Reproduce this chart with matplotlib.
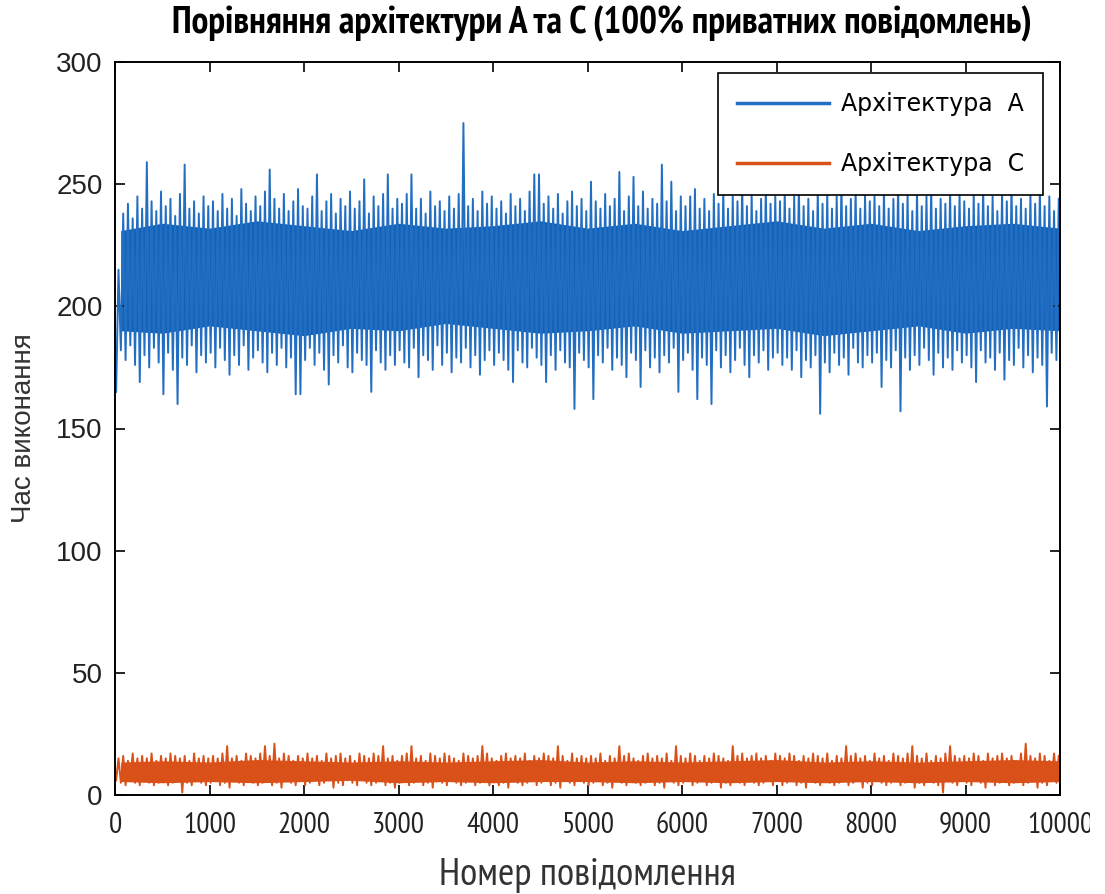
import numpy as np
import matplotlib.pyplot as plt
from matplotlib.transforms import Bbox, TransformedBbox

# zigzag lines must not be merged by the path simplifier
plt.rcParams['path.simplify'] = False

# bin width in messages: each bin holds the min and max seen in the plot
bin_size = 50

# architecture A: per-bin peaks (top) and dips (bottom)
a_hi = [
    215, 238, 242, 236, 245, 240, 259, 243, 239, 247, 241, 244, 237, 246, 258, 240, 243, 238, 245, 241,
    243, 239, 246, 240, 244, 237, 248, 242, 239, 245, 241, 247, 256, 244, 240, 246, 239, 243, 248, 241,
    240, 245, 254, 239, 243, 246, 238, 244, 241, 247, 240, 243, 252, 238, 245, 241, 246, 254, 240, 244,
    242, 246, 254, 240, 244, 238, 247, 241, 243, 239, 245, 240, 246, 275, 241, 244, 239, 247, 242, 245,
    240, 243, 238, 246, 241, 244, 239, 247, 254, 254, 242, 245, 240, 246, 238, 243, 247, 241, 244, 239,
    251, 243, 240, 246, 241, 244, 255, 239, 245, 253, 241, 247, 240, 244, 242, 258, 243, 251, 239, 245,
    241, 245, 248, 240, 244, 239, 246, 242, 248, 240, 245, 243, 250, 241, 246, 239, 244, 249, 242, 245,
    243, 247, 240, 245, 250, 241, 244, 239, 248, 242, 246, 240, 245, 251, 241, 244, 248, 240, 246, 243,
    245, 241, 248, 240, 244, 250, 242, 246, 239, 247, 241, 245, 249, 240, 244, 242, 248, 241, 246, 243,
    240, 246, 242, 249, 241, 245, 239, 247, 243, 250, 241, 244, 240, 246, 242, 248, 241, 245, 239, 244,
]
a_lo = [
    165, 182, 178, 184, 176, 169, 180, 175, 183, 177, 164, 181, 174, 160, 179, 176, 184, 173, 180, 177,
    181, 175, 183, 178, 172, 180, 176, 184, 174, 179, 182, 177, 173, 181, 176, 183, 175, 179, 164, 164,
    178, 183, 176, 181, 174, 168, 180, 177, 184, 175, 173, 181, 178, 176, 165, 182, 177, 174, 180, 176,
    182, 177, 175, 183, 171, 180, 178, 174, 184, 176, 181, 173, 179, 177, 183, 175, 180, 172, 178, 182,
    176, 181, 178, 174, 169, 182, 177, 175, 183, 179, 176, 169, 180, 174, 182, 177, 175, 158, 181, 178,
    175, 162, 180, 177, 183, 174, 179, 176, 171, 181, 178, 167, 182, 175, 179, 173, 180, 177, 183, 165,
    178, 181, 174, 162, 179, 176, 160, 182, 175, 180, 173, 178, 183, 176, 171, 180, 177, 182, 174, 179,
    181, 176, 179, 174, 182, 171, 178, 175, 180, 156, 177, 173, 181, 176, 179, 172, 183, 177, 175, 180,
    177, 181, 167, 178, 175, 182, 157, 179, 174, 180, 176, 183, 178, 172, 181, 175, 179, 174, 182, 177,
    180, 175, 169, 182, 177, 179, 174, 181, 170, 178, 176, 183, 175, 180, 173, 179, 176, 159, 181, 178,
]

# architecture C
c_hi = [
    15, 16, 14, 17, 15, 16, 15, 17, 14, 16, 15, 17, 16, 15, 16, 14, 17, 15, 16, 15,
    16, 15, 17, 20, 15, 16, 14, 17, 16, 15, 17, 20, 16, 21, 15, 17, 16, 14, 16, 15,
    17, 15, 16, 14, 17, 15, 16, 17, 15, 16, 14, 17, 16, 15, 17, 16, 20, 15, 16, 14,
    16, 17, 20, 15, 16, 14, 17, 16, 15, 17, 16, 15, 14, 17, 16, 15, 16, 20, 17, 15,
    14, 16, 17, 15, 16, 15, 17, 14, 16, 15, 17, 16, 15, 20, 16, 14, 17, 15, 16, 15,
    16, 15, 17, 14, 16, 15, 20, 16, 17, 15, 14, 16, 17, 15, 16, 15, 17, 14, 20, 16,
    15, 17, 16, 14, 16, 15, 17, 16, 15, 14, 20, 16, 17, 15, 16, 17, 15, 16, 14, 17,
    16, 15, 17, 16, 14, 16, 15, 17, 16, 15, 17, 14, 16, 15, 20, 16, 17, 15, 16, 14,
    17, 15, 16, 14, 17, 16, 15, 17, 20, 16, 15, 17, 14, 16, 15, 17, 20, 16, 15, 16,
    15, 17, 16, 14, 17, 15, 16, 17, 15, 16, 14, 17, 21, 16, 15, 17, 16, 14, 17, 16,
]
c_lo = [
    6, 5, 4, 6, 5, 4, 6, 5, 4, 5, 6, 4, 5, 6, 1, 5, 4, 6, 5, 4,
    5, 6, 4, 5, 3, 6, 5, 4, 6, 5, 4, 5, 6, 4, 5, 3, 6, 5, 4, 6,
    4, 5, 6, 4, 5, 6, 3, 5, 4, 6, 5, 4, 6, 5, 4, 5, 6, 4, 5, 3,
    5, 6, 4, 5, 6, 4, 5, 3, 6, 5, 4, 6, 5, 4, 5, 6, 4, 5, 6, 4,
    6, 4, 5, 3, 6, 5, 4, 5, 6, 4, 5, 6, 4, 5, 3, 6, 5, 4, 6, 5,
    4, 5, 6, 4, 5, 3, 6, 5, 4, 6, 5, 4, 5, 6, 4, 5, 3, 6, 5, 4,
    5, 6, 4, 5, 6, 4, 5, 6, 3, 5, 4, 6, 5, 4, 6, 5, 4, 5, 6, 4,
    6, 4, 5, 6, 4, 5, 3, 6, 5, 4, 6, 5, 4, 5, 6, 4, 5, 6, 3, 5,
    4, 6, 5, 4, 5, 6, 4, 5, 6, 3, 5, 4, 6, 5, 4, 1, 6, 5, 4, 6,
    5, 4, 6, 5, 3, 6, 4, 5, 6, 4, 5, 6, 4, 5, 6, 3, 5, 4, 6, 5,
]

# dense core of each band (where the line is solid), every 500 messages
core_x = [60, 500, 1000, 1500, 2000, 2500, 3000, 3500, 4000, 4500, 5000,
          5500, 6000, 6500, 7000, 7500, 8000, 8500, 9000, 9500, 10000]
a_core_top = [231, 234, 232, 235, 233, 231, 234, 232, 233, 235, 232,
              234, 231, 233, 235, 232, 234, 231, 233, 234, 232]
a_core_bot = [190, 189, 192, 190, 188, 191, 190, 193, 191, 189, 190,
              192, 189, 190, 191, 188, 190, 192, 189, 191, 190]
c_core_top = [13.5, 14, 13.5, 14.5, 14, 13.5, 14, 13.5, 14, 14.5, 13.5,
              14, 13.5, 14, 14.5, 13.5, 14, 13.5, 14, 14.5, 14]
c_core_bot = [5.5, 5, 5.5, 5, 5.5, 6, 5, 5.5, 5, 5.5, 5.5,
              5, 5.5, 5, 5.5, 5, 5.5, 5, 5.5, 5, 5.5]

xticks = [0, 1000, 2000, 3000, 4000, 5000, 6000, 7000, 8000, 9000, 10000]
yticks = [0, 50, 100, 150, 200, 250, 300]

blue = '#1262B8'
blue_line = '#226EC2'
orange = '#DA5019'


def zigzag(lo, hi):
    # each bin: dip first, then peak
    starts = np.arange(len(lo)) * bin_size
    x = np.column_stack([starts + 12, starts + 37]).ravel()
    y = np.column_stack([lo, hi]).ravel()
    return x, y


def fit_width(txt, target_px):
    # rescale a text so it is as wide as in the original picture
    w = txt.get_window_extent(renderer=fig.canvas.get_renderer()).width
    txt.set_fontsize(txt.get_fontsize() * target_px / w)


narrow = ['PT Sans Narrow', 'Roboto Condensed', 'Sofia Sans Condensed', 'DejaVu Sans']
plain = ['Liberation Sans', 'DejaVu Sans']

fig = plt.figure(figsize=(11.05, 8.94), dpi=100)
ax = fig.add_axes([115 / 1105, 1 - 795 / 894, 945 / 1105, 733 / 894])

xa, ya = zigzag(a_lo, a_hi)
xc, yc = zigzag(c_lo, c_hi)
ax.fill_between(core_x, a_core_bot, a_core_top, color=blue, lw=0)
ax.fill_between(core_x, c_core_bot, c_core_top, color=orange, lw=0)
ax.plot(xa, ya, color=blue_line, lw=1.4, label='Архітектура  A')
ax.plot(xc, yc, color=orange, lw=1.4, label='Архітектура  C')

ax.set_xlim(0, 10000)
ax.set_ylim(0, 300)
ax.set_xticks(xticks)
ax.set_yticks(yticks)

for s in ax.spines.values():
    s.set_linewidth(1.4)
ax.tick_params(direction='in', length=7, width=1.2, top=True, right=True)
ax.tick_params(axis='y', labelsize=20, pad=9)
ax.tick_params(axis='x', labelsize=22, pad=12)
for lab in ax.get_yticklabels():
    lab.set_family(plain)
    lab.set_color('#222222')
for lab in ax.get_xticklabels():
    lab.set_family(narrow)
    lab.set_color('#222222')

ax.set_ylabel('Час виконання', fontsize=20, family=plain, color='#333333', labelpad=14)
ax.set_xlabel('Номер повідомлення', fontsize=22, family=narrow, color='#333333', labelpad=14)

title = fig.text(602 / 1105, 1 - 24 / 894, 'Порівняння архітектури A та C (100% приватних повідомлень)',
                 ha='center', va='center', fontsize=22, fontweight='bold', family=narrow)

leg = ax.legend(loc='upper right', bbox_to_anchor=(1043 / 1105, 1 - 73 / 894),
                bbox_transform=fig.transFigure, prop={'family': 'DejaVu Sans', 'size': 17},
                handlelength=3.9, handletextpad=0.5, labelspacing=1.55, borderpad=0.8,
                borderaxespad=0, fancybox=False, framealpha=1, edgecolor='black')
leg.get_frame().set_linewidth(1.2)
for h in leg.get_lines():
    h.set_linewidth(2.5)

fig.canvas.draw()
fit_width(title, 855)
fit_width(ax.xaxis.label, 295)
xlabels = ax.get_xticklabels()
w1000 = xlabels[1].get_window_extent(renderer=fig.canvas.get_renderer()).width
for lab in xlabels:
    lab.set_fontsize(lab.get_fontsize() * 53 / w1000)

# the last label is cut by the picture edge in the original
xlabels[-1].set_clip_on(True)
xlabels[-1].set_clip_box(TransformedBbox(Bbox([[0, 0], [1090 / 1105, 1]]), fig.transFigure))

fig.savefig('out.png', dpi=100)
